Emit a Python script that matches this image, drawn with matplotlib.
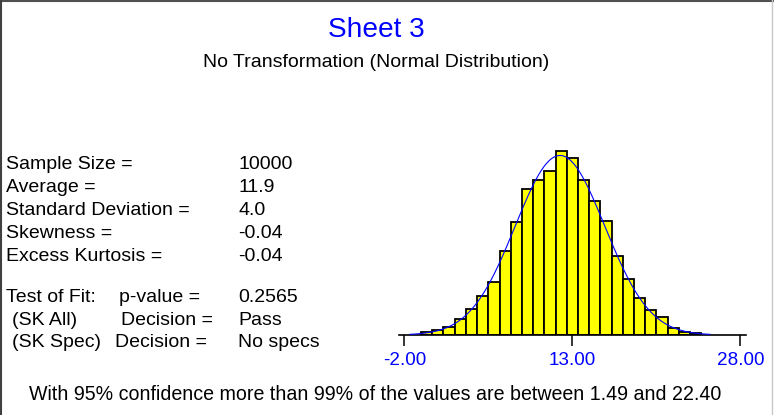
import numpy as np
import matplotlib
matplotlib.use("Agg")
import matplotlib.pyplot as plt
from matplotlib.lines import Line2D

plt.rcParams['font.family'] = ['Liberation Sans', 'DejaVu Sans']

# histogram data (bin centers, counts)
bin_centers = list(range(0, 25))
counts = [15, 26, 43, 87, 146, 215, 293, 465, 626, 813, 863, 913, 1024,
          982, 863, 746, 632, 437, 309, 204, 137, 100, 37, 17, 9]

# summary stats shown in the chart
sample_size = 10000
average = 11.9
std_dev = 4.0
stat_labels = ['Sample Size =', 'Average =', 'Standard Deviation =',
               'Skewness =', 'Excess Kurtosis =']
stat_values = ['10000', '11.9', '4.0', '-0.04', '-0.04']
tick_vals = [-2, 13, 28]
tick_labels = ['-2.00', '13.00', '28.00']

W, H = 774, 415
fig = plt.figure(figsize=(W / 100, H / 100), dpi=100)

def px(x, y):
    return x / W, 1 - y / H

# axes placed in pixel terms
ax_left, ax_right, base_y = 399.3, 745.7, 335
ymax = 1100
ax_h = ymax / 5.555
ax = fig.add_axes([ax_left / W, (H - base_y) / H, (ax_right - ax_left) / W, ax_h / H])
ax.bar(bin_centers, counts, width=1.0, color='#ffff00', edgecolor='black', linewidth=1.3, zorder=2)

# fitted normal curve from average / std dev
xs = np.linspace(-1.5, 25.3, 300)
ys = sample_size / (std_dev * np.sqrt(2 * np.pi)) * np.exp(-0.5 * ((xs - average) / std_dev) ** 2)
ax.plot(xs, ys, color='#0000ff', linewidth=0.8, zorder=3)

ax.set_xlim(-2.446, 28.48)
ax.set_ylim(0, ymax)
for s in ['top', 'left', 'right']:
    ax.spines[s].set_visible(False)
ax.spines['bottom'].set_linewidth(1.2)
ax.set_yticks([])
ax.set_xticks(tick_vals)
ax.set_xticklabels(tick_labels, color='#0000ff', fontsize=13.6)
ax.tick_params(axis='x', direction='out', length=8, width=1.1, pad=4.5)
ax.patch.set_alpha(0)

# titles
fig.text(*px(376, 37.3), 'Sheet 3', color='#0000ff', fontsize=20.2, ha='center', va='baseline')
fig.text(*px(376, 67.3), 'No Transformation (Normal Distribution)', color='black',
         fontsize=14, ha='center', va='baseline')

# stats block
rows_y = [169.3, 191.7, 215, 237.7, 260.7]
for lab, val, y in zip(stat_labels, stat_values, rows_y):
    fig.text(*px(5.7, y), lab, fontsize=14, va='baseline')
    fig.text(*px(238.3, y), val, fontsize=14, va='baseline')

fig.text(*px(5.7, 301.7), 'Test of Fit:', fontsize=14, va='baseline')
fig.text(*px(119.3, 301.7), 'p-value =', fontsize=14, va='baseline')
fig.text(*px(238.3, 301.7), '0.2565', fontsize=14, va='baseline')
fig.text(*px(11.7, 325), '(SK All)', fontsize=14, va='baseline')
fig.text(*px(120.7, 325), 'Decision =', fontsize=14, va='baseline')
fig.text(*px(238.3, 325), 'Pass', fontsize=14, va='baseline')
fig.text(*px(11.7, 347.3), '(SK Spec)', fontsize=14, va='baseline')
fig.text(*px(115, 347.3), 'Decision =', fontsize=14, va='baseline')
fig.text(*px(238.3, 347.3), 'No specs', fontsize=14, va='baseline')

fig.text(*px(29.3, 400), 'With 95% confidence more than 99% of the values are between 1.49 and 22.40',
         fontsize=14.15, va='baseline')

# window border
fig.add_artist(Line2D([0, 1], [1 - 1 / H, 1 - 1 / H], color='#505050', linewidth=1.5, transform=fig.transFigure))
fig.add_artist(Line2D([1 / W, 1 / W], [0, 1], color='#404040', linewidth=1.5, transform=fig.transFigure))
fig.add_artist(Line2D([771.5 / W, 771.5 / W], [0, 1], color='#c8c8c8', linewidth=1.0, transform=fig.transFigure))

fig.savefig('out.png', dpi=100)
